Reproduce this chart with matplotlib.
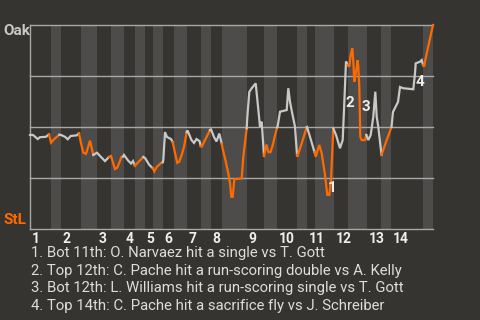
import matplotlib
matplotlib.use("Agg")
import matplotlib.pyplot as plt
import matplotlib.transforms as mtrans

plt.rcParams['font.family'] = ['Roboto', 'DejaVu Sans']

BG = "#363430"
BAND = "#4d4c4a"
OAK_C = "#c8c8c8"
STL_C = "#ff6a00"

# half-inning boundaries (game progress units)
half_bounds = [0, 21, 31, 51, 67, 81, 94, 105, 115, 123, 133, 144, 157, 171, 181,
               192, 217, 234, 247, 267, 277, 285, 304, 318, 337, 351, 361, 393, 403]
inning_labels = [str(i) for i in range(1, 15)]

# Oak win probability (%) per half-inning, progress positions
hx = [
    [0, 3, 7.7, 10, 16, 19],
    [21, 24, 29.3],
    [31, 35, 37.7, 40.7, 46.7, 49],
    [51, 53.3, 56, 60, 63.3],
    [67, 70, 75, 79],
    [81, 85, 87.3, 91.5, 93],
    [94, 98, 101, 103, 104.5],
    [105, 108.3, 113.3],
    [115, 119.3, 122.7],
    [124.3, 126.7, 130.7, 132.7],
    [133.3, 135, 137, 141, 142.7],
    [145, 147.3, 149.3, 151.7, 154, 156.7],
    [157.5, 161.5, 164, 166.5, 169.5, 170.7],
    [171.7, 175, 180],
    [181, 184, 186.5, 189.3, 191.7],
    [192.5, 195, 198.3, 200, 201.3, 202.7, 204.3, 211.7, 213.3, 216.7],
    [217.3, 219.3, 221.7, 225.7, 227.7, 230, 231.7, 234],
    [236.5, 238.3, 240.5, 242.5, 247],
    [247.5, 250, 256.7, 258.3, 260, 261.7, 265, 267],
    [267.3, 271.7, 276.7],
    [277, 280, 284.5],
    [285.7, 289.3, 291.7, 295, 297.3, 299.3, 301, 303.3],
    [304, 306, 310, 312.7, 314, 316, 317.7],
    [319.3, 320.7, 322.3, 323.3, 324.3, 326, 327.7, 328.3, 329.3, 330.3, 331.7, 335, 336.3],
    [338.3, 340.7, 343.3, 345.3, 346.7, 348.3, 351.5],
    [356.7, 361.5],
    [363, 368, 370, 373.3, 383.3, 385, 385.7, 390, 391.7, 393],
    [394, 396.7, 403],
]
hp = [
    [46.1, 46.1, 44.1, 45.0, 45.2, 46.4],
    [42.3, 44.0, 46.2],
    [46.1, 45.2, 44.0, 45.6, 45.9, 46.9],
    [42.0, 37.4, 36.8, 43.3, 36.3],
    [37.4, 35.8, 33.3, 35.3],
    [35.8, 29.4, 30.1, 35.3, 35.5],
    [36.3, 33.6, 32.1, 33.3, 31.4],
    [31.0, 32.8, 35.3],
    [34.8, 31.4, 29.8],
    [28.2, 30.4, 32.2, 32.7],
    [33.8, 47.5, 45.1, 44.1, 42.6],
    [37.3, 32.4, 33.0, 36.3, 40.3, 47.5],
    [48.3, 43.6, 42.2, 44.1, 43.1, 40.7],
    [40.4, 43.6, 48.5],
    [48.8, 45.1, 42.9, 46.8, 41.9],
    [39.7, 34.7, 27.3, 22.5, 15.8, 15.8, 24.4, 24.8, 35.4, 49.4],
    [54.9, 67.2, 69.0, 71.4, 61.6, 50.1, 52.6, 35.8],
    [41.4, 37.7, 37.7, 40.7, 49.8],
    [50.0, 57.5, 58.3, 69.0, 62.4, 58.0, 50.1, 36.3],
    [35.4, 42.0, 49.9],
    [50.0, 45.2, 37.7],
    [35.4, 41.2, 37.1, 26.5, 16.7, 16.7, 24.0, 49.4],
    [48.5, 46.1, 39.6, 43.6, 58.3, 82.1, 80.4],
    [79.6, 85.3, 88.6, 82.0, 72.2, 77.1, 82.8, 79.6, 69.8, 45.1, 43.6, 43.6, 46.1],
    [43.6, 46.1, 55.0, 67.3, 55.0, 50.1, 36.3],
    [43.6, 50.0],
    [57.4, 62.3, 69.6, 69.0, 68.5, 76.3, 81.2, 82.0, 82.8, 80.4],
    [79.6, 86.1, 100.0],
]

event_nums = ["1", "2", "3", "4"]
event_x = [302, 320, 335.5, 389.5]
event_p = [20, 62, 60, 72]
event_texts = [
    "1. Bot 11th: O. Narvaez hit a single vs T. Gott",
    "2. Top 12th: C. Pache hit a run-scoring double vs A. Kelly",
    "3. Bot 12th: L. Williams hit a run-scoring single vs T. Gott",
    "4. Top 14th: C. Pache hit a sacrifice fly vs J. Schreiber",
]

fig = plt.figure(figsize=(4.8, 3.2), dpi=100, facecolor=BG)
ax = fig.add_axes([30 / 480, 1 - 229 / 320, 403 / 480, 204 / 320])
ax.set_facecolor(BG)

# alternating bands for bottom halves
for i in range(1, len(half_bounds) - 1, 2):
    ax.axvspan(half_bounds[i], half_bounds[i + 1], color=BAND, lw=0, zorder=0)

for g in [25, 50, 75, 100]:
    ax.axhline(g, color="#a8a8a8", lw=1.0, zorder=1, clip_on=False)

prev = None
for i, (xs, ps) in enumerate(zip(hx, hp)):
    col = OAK_C if i % 2 == 0 else STL_C
    xx = list(xs)
    pp = list(ps)
    if prev is not None:
        xx = [prev[0]] + xx
        pp = [prev[1]] + pp
    ax.plot(xx, pp, color=col, lw=1.6, zorder=3, solid_joinstyle='miter', clip_on=False)
    prev = (xs[-1], ps[-1])

for n, ex, ep in zip(event_nums, event_x, event_p):
    ax.text(ex, ep, n, color="#eeeeee", fontsize=11, fontweight='bold',
            ha='center', va='center', zorder=4)

ax.set_xlim(0, 403)
ax.set_ylim(0, 100)
for s in ['top', 'right']:
    ax.spines[s].set_visible(False)
for s in ['left', 'bottom']:
    ax.spines[s].set_color("#a8a8a8")
    ax.spines[s].set_linewidth(1.0)
ax.set_yticks([])
ax.set_xticks(half_bounds[0:-1:2])
ax.set_xticklabels(inning_labels, ha='left', color="#eeeeee", fontsize=10, fontweight='bold')
ax.tick_params(axis='x', length=0, pad=2)
offset = mtrans.ScaledTranslation(1.5 / 100, 0, fig.dpi_scale_trans)
for lab in ax.get_xticklabels():
    lab.set_transform(lab.get_transform() + offset)

fig.text(3 / 480, 1 - 31 / 320, "Oak", color=OAK_C, fontsize=11, fontweight='bold',
         ha='left', va='center')
fig.text(3 / 480, 1 - 219.5 / 320, "StL", color=STL_C, fontsize=11, fontweight='bold',
         ha='left', va='center')

for k, t in enumerate(event_texts):
    fig.text(31 / 480, 1 - (253 + 17.7 * k) / 320, t, color="#dddddd", fontsize=10.7,
             ha='left', va='center')

fig.savefig("out.png", dpi=100, facecolor=BG)
